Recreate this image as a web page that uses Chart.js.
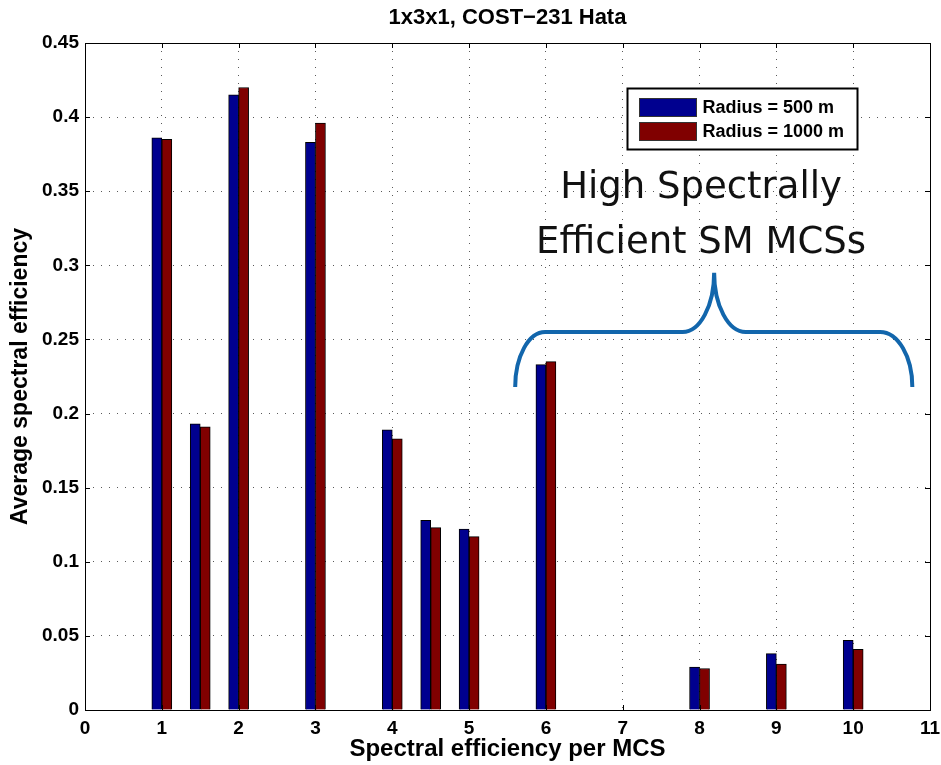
<!DOCTYPE html>
<html>
<head>
<meta charset="utf-8">
<script src="https://cdn.jsdelivr.net/npm/chart.js@4.4.1/dist/chart.umd.min.js"></script>
<style>
  html, body { margin: 0; padding: 0; background: #fff; }
  #wrap { width: 941px; height: 765px; position: relative; }
</style>
</head>
<body>
<div id="wrap"><canvas id="c" width="941" height="765"></canvas></div>
<script>
// ---- data ----
const mcsPositions = [1, 1.5, 2, 3, 4, 4.5, 5, 6, 8, 9, 10];
const radius500 = [0.386, 0.193, 0.415, 0.383, 0.189, 0.128, 0.122, 0.233, 0.029, 0.038, 0.047];
const radius1000 = [0.385, 0.191, 0.420, 0.396, 0.183, 0.123, 0.117, 0.235, 0.028, 0.031, 0.041];
const seriesLabels = ['Radius = 500 m', 'Radius = 1000 m'];
const xTicks = [0, 1, 2, 3, 4, 5, 6, 7, 8, 9, 10, 11];
const yTicks = [0, 0.05, 0.1, 0.15, 0.2, 0.25, 0.3, 0.35, 0.4, 0.45];
const titleText = '1x3x1, COST\u2212231 Hata';
const xTitle = 'Spectral efficiency per MCS';
const yTitle = 'Average spectral efficiency';
const noteLines = ['High Spectrally', 'Efficient SM MCSs'];
// brace anchor points in data units (x, y)
const braceX = [5.60, 5.99, 7.78, 8.19, 8.60, 10.35, 10.77];
const braceY = [0.218, 0.255, 0.295];

const FONT = '"Liberation Sans", Arial, Helvetica, sans-serif';
const BLUE = 'rgb(0,0,143)';
const RED = 'rgb(128,0,0)';

const pts = (vals) => mcsPositions.map((x, i) => ({ x: x, y: vals[i] }));

const decor = {
  id: 'decor',
  afterDraw(chart) {
    const { ctx, chartArea: a, scales: { x, y } } = chart;
    ctx.save();
    // title, centred over the plot area
    ctx.fillStyle = '#000';
    ctx.font = 'bold 22px ' + FONT;
    ctx.textAlign = 'center';
    ctx.textBaseline = 'middle';
    ctx.fillText(titleText, (a.left + a.right) / 2, 18);

    // axes box
    ctx.strokeStyle = '#000';
    ctx.lineWidth = 1;
    ctx.strokeRect(Math.round(a.left) + 0.5, Math.round(a.top) + 0.5,
                   Math.round(a.right - a.left), Math.round(a.bottom - a.top));
    // inward ticks
    ctx.beginPath();
    const L = 5;
    xTicks.forEach(v => {
      const px = Math.round(x.getPixelForValue(v)) + 0.5;
      ctx.moveTo(px, a.bottom); ctx.lineTo(px, a.bottom - L);
      ctx.moveTo(px, a.top); ctx.lineTo(px, a.top + L);
    });
    yTicks.forEach(v => {
      const py = Math.round(y.getPixelForValue(v)) + 0.5;
      ctx.moveTo(a.left, py); ctx.lineTo(a.left + L, py);
      ctx.moveTo(a.right, py); ctx.lineTo(a.right - L, py);
    });
    ctx.stroke();

    // brace
    const X = braceX.map(v => x.getPixelForValue(v));
    const Yb = y.getPixelForValue(braceY[0]);
    const Yh = y.getPixelForValue(braceY[1]);
    const Yp = y.getPixelForValue(braceY[2]);
    const k = 0.5523;
    ctx.beginPath();
    ctx.strokeStyle = 'rgb(18,102,172)';
    ctx.lineWidth = 4;
    ctx.lineCap = 'butt';
    ctx.moveTo(X[0], Yb);
    ctx.bezierCurveTo(X[0], Yb - k * (Yb - Yh), X[1] - k * (X[1] - X[0]), Yh, X[1], Yh);
    ctx.lineTo(X[2], Yh);
    ctx.bezierCurveTo(X[2] + k * (X[3] - X[2]), Yh, X[3], Yp + k * (Yh - Yp), X[3], Yp);
    ctx.bezierCurveTo(X[3], Yp + k * (Yh - Yp), X[4] - k * (X[4] - X[3]), Yh, X[4], Yh);
    ctx.lineTo(X[5], Yh);
    ctx.bezierCurveTo(X[5] + k * (X[6] - X[5]), Yh, X[6], Yb - k * (Yb - Yh), X[6], Yb);
    ctx.stroke();

    // annotation text
    ctx.fillStyle = '#111';
    ctx.font = '37px "DejaVu Sans", sans-serif';
    ctx.textAlign = 'center';
    ctx.textBaseline = 'alphabetic';
    const tx = x.getPixelForValue(8.02);
    ctx.fillText(noteLines[0], tx, y.getPixelForValue(0.3454));
    ctx.fillText(noteLines[1], tx, y.getPixelForValue(0.3083));

    // legend
    const lx = Math.round(a.right) - 303 + 0.5, ly = Math.round(a.top) + 45 + 0.5, lw = 230, lh = 61;
    ctx.fillStyle = '#fff';
    ctx.fillRect(lx, ly, lw, lh);
    ctx.strokeStyle = '#000';
    ctx.lineWidth = 2;
    ctx.strokeRect(lx, ly, lw, lh);
    const colors = [BLUE, RED];
    ctx.font = 'bold 18px ' + FONT;
    ctx.textAlign = 'left';
    ctx.textBaseline = 'middle';
    chart.data.datasets.forEach((ds, i) => {
      const sy = ly + 10 + i * 24;
      ctx.fillStyle = colors[i];
      ctx.fillRect(lx + 12, sy, 57, 18);
      ctx.lineWidth = 1;
      ctx.strokeStyle = '#333';
      ctx.strokeRect(lx + 12, sy, 57, 18);
      ctx.fillStyle = '#000';
      ctx.fillText(ds.label, lx + 75, sy + 10);
    });
    ctx.restore();
  }
};

new Chart(document.getElementById('c'), {
  type: 'bar',
  data: {
    datasets: [
      { label: seriesLabels[0], data: pts(radius500), backgroundColor: BLUE, borderColor: '#000', borderWidth: 1, borderSkipped: 'bottom', barThickness: 10 },
      { label: seriesLabels[1], data: pts(radius1000), backgroundColor: RED, borderColor: '#000', borderWidth: 1, borderSkipped: 'bottom', barThickness: 10 }
    ]
  },
  options: {
    responsive: false,
    animation: false,
    layout: { padding: { left: 0, right: 11, top: 43, bottom: 0 } },
    plugins: {
      legend: { display: false },
      tooltip: { enabled: false },
      title: { display: false }
    },
    scales: {
      x: {
        type: 'linear', min: 0, max: 11, offset: false,
        afterBuildTicks: (s) => { s.ticks = xTicks.map(v => ({ value: v })); },
        afterFit: (s) => { s.height = 55; s.paddingLeft = 0; s.paddingRight = 0; },
        ticks: { color: '#000', font: { family: FONT, size: 19, weight: 'bold' }, padding: 7, maxRotation: 0, autoSkip: false, callback: v => String(v) },
        grid: { color: 'rgba(0,0,0,0.65)', drawTicks: false, offset: false },
        border: { display: false, dash: [1, 7] },
        title: { display: true, text: xTitle, color: '#000', font: { family: FONT, size: 24, weight: 'bold' }, padding: { top: 0, bottom: 1 } }
      },
      y: {
        type: 'linear', min: 0, max: 0.45,
        afterBuildTicks: (s) => { s.ticks = yTicks.map(v => ({ value: v })); },
        afterFit: (s) => { s.width = 85; s.paddingTop = 0; s.paddingBottom = 0; },
        ticks: { color: '#000', font: { family: FONT, size: 19, weight: 'bold' }, padding: 6, autoSkip: false, callback: v => String(+v.toFixed(2)) },
        grid: { color: 'rgba(0,0,0,0.65)', drawTicks: false },
        border: { display: false, dash: [1, 7] },
        title: { display: true, text: yTitle, color: '#000', font: { family: FONT, size: 23, weight: 'bold' }, padding: { top: 7, bottom: 0 } }
      }
    }
  },
  plugins: [decor]
});
</script>
</body>
</html>
